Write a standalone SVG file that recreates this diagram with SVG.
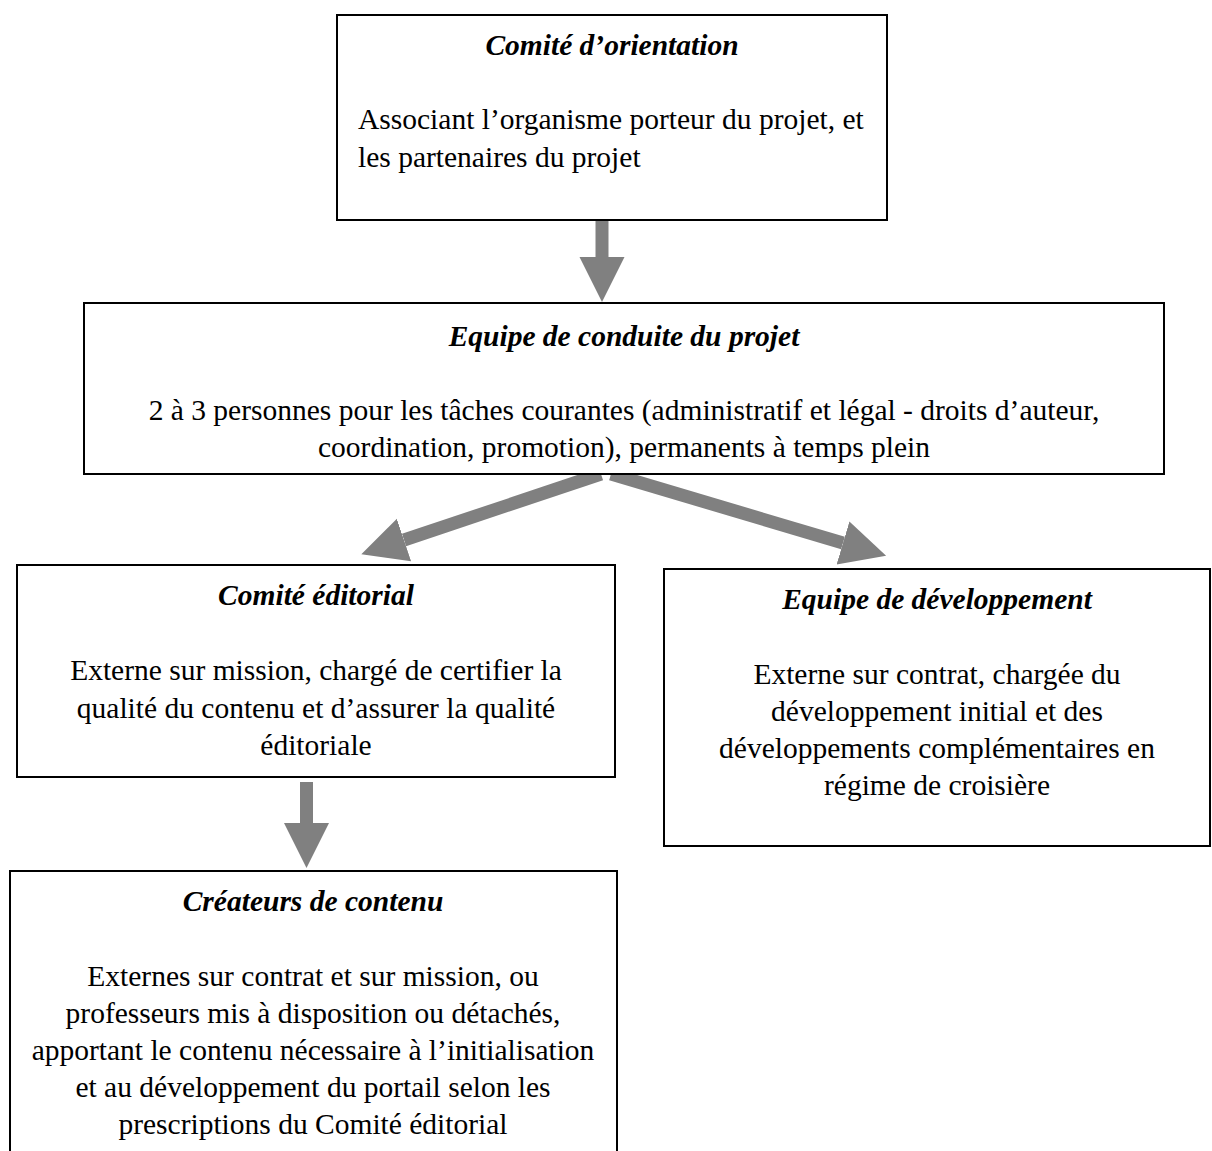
<svg xmlns="http://www.w3.org/2000/svg" width="1212" height="1151" viewBox="0 0 1212 1151">
<style>
.box{fill:#fff;stroke:#000;stroke-width:2}
.t{font-family:"Liberation Serif","Times New Roman",serif;font-size:29.5px;fill:#000}
.h{font-weight:bold;font-style:italic}
.c{text-anchor:middle}
.arr{stroke:#808080;stroke-width:13;fill:none}
</style>
<defs>
<marker id="head" markerUnits="userSpaceOnUse" markerWidth="46" markerHeight="46" refX="0" refY="22.5" orient="auto" viewBox="0 0 46 46">
<path d="M0,0 L45,22.5 L0,45 Z" fill="#808080"/>
</marker>
</defs>
<rect width="1212" height="1151" fill="#fff"/>
<g id="connectors">
<line class="arr" x1="602" y1="219" x2="602" y2="257" marker-end="url(#head)"/>
<line class="arr" x1="601" y1="474" x2="404" y2="540" marker-end="url(#head)"/>
<line class="arr" x1="611" y1="474" x2="843" y2="543" marker-end="url(#head)"/>
<line class="arr" x1="306.5" y1="782" x2="306.5" y2="823" marker-end="url(#head)"/>
</g>
<g id="n1">
<rect class="box" x="337" y="15" width="550" height="205"/>
<text class="t h c" x="612" y="55">Comité d’orientation</text>
<text class="t" x="358" y="129">Associant l’organisme porteur du projet, et</text>
<text class="t" x="358" y="167">les partenaires du projet</text>
</g>
<g id="n2">
<rect class="box" x="84" y="303" width="1080" height="171"/>
<text class="t h c" x="624" y="346">Equipe de conduite du projet</text>
<text class="t c" x="624" y="420">2 à 3 personnes pour les tâches courantes (administratif et légal - droits d’auteur,</text>
<text class="t c" x="624" y="457">coordination, promotion), permanents à temps plein</text>
</g>
<g id="n3">
<rect class="box" x="17" y="565" width="598" height="212"/>
<text class="t h c" x="316" y="605">Comité éditorial</text>
<text class="t c" x="316" y="680">Externe sur mission, chargé de certifier la</text>
<text class="t c" x="316" y="717.5">qualité du contenu et d’assurer la qualité</text>
<text class="t c" x="316" y="755">éditoriale</text>
</g>
<g id="n4">
<rect class="box" x="664" y="569" width="546" height="277"/>
<text class="t h c" x="937" y="609">Equipe de développement</text>
<text class="t c" x="937" y="684">Externe sur contrat, chargée du</text>
<text class="t c" x="937" y="721">développement initial et des</text>
<text class="t c" x="937" y="758">développements complémentaires en</text>
<text class="t c" x="937" y="795">régime de croisière</text>
</g>
<g id="n5">
<rect class="box" x="10" y="871" width="607" height="300"/>
<text class="t h c" x="313" y="911">Créateurs de contenu</text>
<text class="t c" x="313" y="986">Externes sur contrat et sur mission, ou</text>
<text class="t c" x="313" y="1023">professeurs mis à disposition ou détachés,</text>
<text class="t c" x="313" y="1060">apportant le contenu nécessaire à l’initialisation</text>
<text class="t c" x="313" y="1097">et au développement du portail selon les</text>
<text class="t c" x="313" y="1134">prescriptions du Comité éditorial</text>
</g>
</svg>
